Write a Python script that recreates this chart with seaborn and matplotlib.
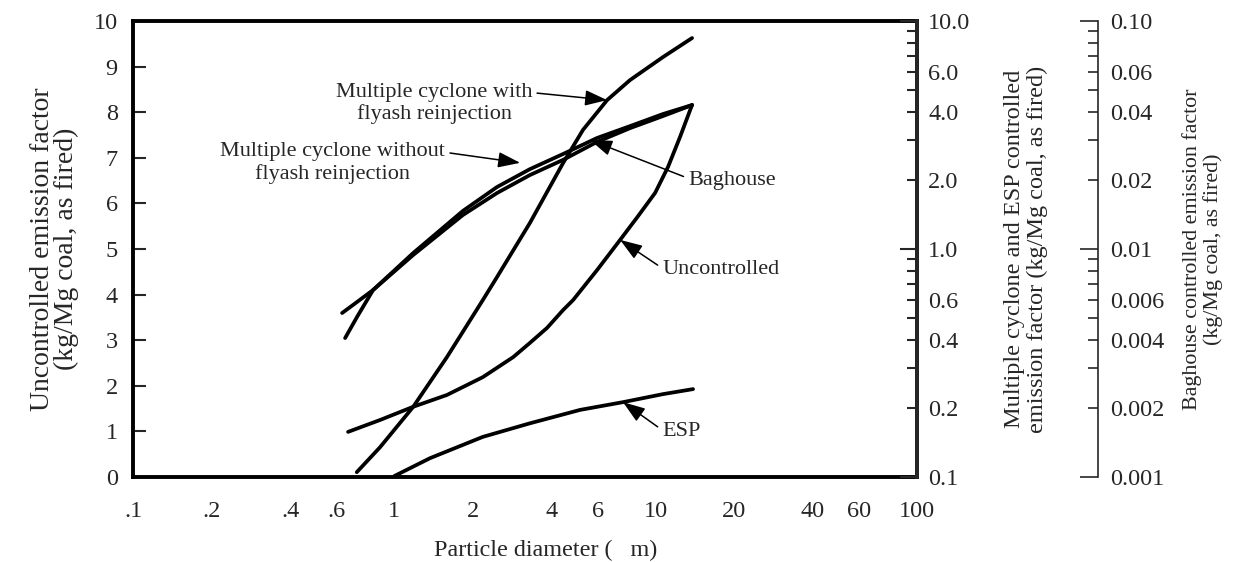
import matplotlib
matplotlib.use("Agg")
import matplotlib.pyplot as plt
from matplotlib.ticker import FixedLocator, FuncFormatter
import seaborn as sns

# particle diameter (um) and emission factors
uncontrolled_d = [0.665, 0.881, 1.18, 1.59, 2.18, 2.85, 3.30, 3.84, 4.42, 4.83, 5.97, 7.31,
                  8.56, 9.95, 11.15, 12.4, 13.78]
uncontrolled = [0.99, 1.25, 1.54, 1.80, 2.19, 2.63, 2.94, 3.27, 3.66, 3.88, 4.54, 5.20,
                5.72, 6.23, 6.80, 7.46, 8.16]

with_reinj_d = [0.718, 0.881, 1.18, 1.59, 2.18, 2.47, 3.30, 4.42, 5.27, 6.52, 7.98, 10.67, 13.78]
with_reinj = [0.105, 0.135, 0.203, 0.336, 0.597, 0.753, 1.30, 2.38, 3.33, 4.50, 5.51, 6.95, 8.42]

without_reinj_d = [0.648, 0.72, 0.829, 1.18, 1.83, 2.47, 3.30, 4.42, 5.97, 7.98, 10.67, 13.78]
without_reinj = [0.407, 0.504, 0.661, 0.96, 1.47, 1.87, 2.24, 2.61, 3.07, 3.46, 3.91, 4.28]

baghouse_d = [0.631, 0.72, 0.829, 1.18, 1.83, 2.47, 3.30, 4.42, 5.97, 7.98, 10.67, 13.78]
baghouse = [0.00524, 0.00586, 0.00661, 0.00941, 0.0141, 0.0176, 0.0211, 0.0246, 0.0295, 0.0339, 0.0383, 0.0428]

esp_d = [1.0, 1.37, 2.18, 3.30, 5.14, 7.50, 10.67, 13.9]
esp = [0.101, 0.121, 0.150, 0.172, 0.197, 0.213, 0.231, 0.243]

x_labels = {0.1: ".1", 0.2: ".2", 0.4: ".4", 0.6: ".6", 1: "1", 2: "2", 4: "4", 6: "6",
            10: "10", 20: "20", 40: "40", 60: "60", 100: "100"}
mid_labels = {0.1: "0.1", 0.2: "0.2", 0.4: "0.4", 0.6: "0.6", 1: "1.0", 2: "2.0",
              4: "4.0", 6: "6.0", 10: "10.0"}
bag_labels = {0.001: "0.001", 0.002: "0.002", 0.004: "0.004", 0.006: "0.006", 0.01: "0.01",
              0.02: "0.02", 0.04: "0.04", 0.06: "0.06", 0.1: "0.10"}

sns.set_style("white")
plt.rcParams["font.family"] = ["Liberation Serif", "DejaVu Serif"]

TICK_FS = 17.5


def lookup(table):
    keyed = {round(k, 6): v for k, v in table.items()}
    return FuncFormatter(lambda val, pos: keyed.get(round(val, 6), ""))


def log_minor(lo_exp, hi_exp):
    return [k * 10.0 ** e for e in range(lo_exp, hi_exp) for k in range(2, 10)]


def curve(axis, d, v):
    sns.lineplot(x=d, y=v, ax=axis, color="black", lw=2.7, estimator=None,
                 sort=False, legend=False)


fig, ax = plt.subplots(figsize=(12.33, 5.62), dpi=100)
fig.subplots_adjust(left=0.1079, right=0.7437, bottom=0.1512, top=0.9626)
ax2 = ax.twinx()
ax3 = ax.twinx()

curve(ax, uncontrolled_d, uncontrolled)
curve(ax2, with_reinj_d, with_reinj)
curve(ax2, without_reinj_d, without_reinj)
curve(ax2, esp_d, esp)
curve(ax3, baghouse_d, baghouse)

# bottom / left axis
ax.set_xscale("log")
ax.set_xlim(0.1, 100)
ax.set_ylim(0, 10)
ax.xaxis.set_major_locator(FixedLocator([0.1, 1, 10, 100]))
ax.xaxis.set_minor_locator(FixedLocator(log_minor(-1, 2)))
ax.xaxis.set_major_formatter(lookup(x_labels))
ax.xaxis.set_minor_formatter(lookup(x_labels))
ax.set_yticks(range(0, 11))
ax.tick_params(axis="x", which="major", direction="in", length=12, width=1.5, pad=17, labelsize=TICK_FS)
ax.tick_params(axis="x", which="minor", direction="in", length=8, width=1.5, pad=17, labelsize=TICK_FS)
ax.tick_params(axis="y", direction="in", length=9, width=1.5, pad=11, labelsize=TICK_FS)
for s in ax.spines.values():
    s.set_linewidth(2.8)
    s.set_color("black")

ax.set_xlabel("Particle diameter (   m)", fontsize=17.4)
ax.xaxis.label.set_verticalalignment("center")
ax.xaxis.set_label_coords(0.526, -0.16)
ax.set_ylabel("Uncontrolled emission factor\n(kg/Mg coal, as fired)", fontsize=20, linespacing=0.95)
ax.yaxis.label.set_verticalalignment("center")
ax.yaxis.set_label_coords(-0.100, 0.5)

# multiple cyclone / ESP axis
ax2.set_yscale("log")
ax2.set_ylim(0.1, 10)
ax2.yaxis.set_major_locator(FixedLocator([0.1, 1, 10]))
ax2.yaxis.set_minor_locator(FixedLocator(log_minor(-1, 1)))
ax2.yaxis.set_major_formatter(lookup(mid_labels))
ax2.yaxis.set_minor_formatter(lookup(mid_labels))
ax2.tick_params(axis="y", which="major", direction="in", length=12, width=1.5, pad=8, labelsize=TICK_FS)
ax2.tick_params(axis="y", which="minor", direction="in", length=7, width=1.5, pad=8, labelsize=TICK_FS)
for name in ["left", "top", "bottom"]:
    ax2.spines[name].set_visible(False)
ax2.spines["right"].set_linewidth(2.8)
ax2.set_ylabel("Multiple cyclone and ESP controlled\nemission factor (kg/Mg coal, as fired)",
               fontsize=17.5, linespacing=1.15)
ax2.yaxis.label.set_verticalalignment("center")
ax2.yaxis.set_label_coords(1.139, 0.5)

# baghouse axis
ax3.set_yscale("log")
ax3.set_ylim(0.001, 0.1)
ax3.spines["right"].set_position(("axes", 1.231))
for name in ["left", "top", "bottom"]:
    ax3.spines[name].set_visible(False)
ax3.spines["right"].set_linewidth(1.2)
ax3.yaxis.set_major_locator(FixedLocator([0.001, 0.01, 0.1]))
ax3.yaxis.set_minor_locator(FixedLocator(log_minor(-3, -1)))
ax3.yaxis.set_major_formatter(lookup(bag_labels))
ax3.yaxis.set_minor_formatter(lookup(bag_labels))
ax3.tick_params(axis="y", which="major", direction="in", length=13, width=1.2, pad=9, labelsize=TICK_FS)
ax3.tick_params(axis="y", which="minor", direction="in", length=7, width=1.2, pad=9, labelsize=TICK_FS)
for t in ax3.yaxis.get_major_ticks():
    if round(t.get_loc(), 6) in (0.001, 0.1):
        t.tick2line.set_markersize(20)
ax3.set_ylabel("Baghouse controlled emission factor\n(kg/Mg coal, as fired)", fontsize=15.8,
               linespacing=1.05)
ax3.yaxis.label.set_verticalalignment("center")
ax3.yaxis.set_label_coords(1.364, 0.5)

arrow = dict(arrowstyle="-|>,head_length=0.85,head_width=0.3", color="black", lw=1.1,
             shrinkA=1, shrinkB=0)

ax3.annotate("Multiple cyclone with\nflyash reinjection", xy=(with_reinj_d[9], with_reinj[9]),
             xycoords=ax2.transData, xytext=(1.42, 8.19), textcoords=ax.transData,
             ha="center", va="center", fontsize=16,
             arrowprops=dict(arrow, relpos=(1.0, 0.76)))
ax3.annotate("Multiple cyclone without\nflyash reinjection", xy=(3.03, 6.89),
             xycoords=ax.transData, xytext=(0.582, 6.89), textcoords=ax.transData,
             ha="center", va="center", fontsize=16,
             arrowprops=dict(arrow, relpos=(1.0, 0.75)))
ax3.annotate("Baghouse", xy=(5.61, 7.39), xycoords=ax.transData,
             xytext=(13.3, 6.51), textcoords=ax.transData,
             ha="left", va="center", fontsize=16,
             arrowprops=dict(arrow, relpos=(0.0, 0.6)))
ax3.annotate("Uncontrolled", xy=(uncontrolled_d[11], uncontrolled[11]), xycoords=ax.transData,
             xytext=(10.58, 4.54), textcoords=ax.transData,
             ha="left", va="center", fontsize=16,
             arrowprops=dict(arrow, relpos=(0.0, 0.6)))
ax3.annotate("ESP", xy=(esp_d[5], esp[5]), xycoords=ax2.transData,
             xytext=(10.58, 0.99), textcoords=ax.transData,
             ha="left", va="center", fontsize=16,
             arrowprops=dict(arrow, relpos=(0.0, 0.6)))

fig.savefig("out.png", dpi=100)
